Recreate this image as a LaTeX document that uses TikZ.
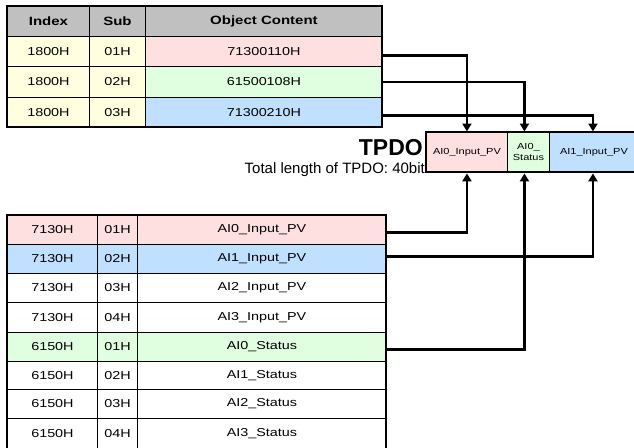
\documentclass[tikz,border=0pt]{standalone}
\usepackage{fontspec}
\setmainfont{Liberation Sans}
\newfontfamily\widefont[FakeStretch=1.25]{Liberation Sans}
\usetikzlibrary{arrows.meta}
\definecolor{hdrgray}{RGB}{192,192,192}
\definecolor{cellyellow}{RGB}{255,255,224}
\definecolor{cellpink}{RGB}{255,224,224}
\definecolor{cellgreen}{RGB}{224,255,224}
\definecolor{cellblue}{RGB}{192,224,255}
\newcommand{\mkcell}[7][]{%
  \node[cell,#1,fill=#7,minimum width={#4pt-#2pt},minimum height={#5pt-#3pt}] (#6) at (#2,#3) {};}
\begin{document}
\begin{tikzpicture}[x=1pt,y=-1pt,
  cell/.style={draw=black,line width=0.9pt,inner sep=0pt,anchor=north west},
  txt/.style={font=\widefont\fontsize{11.5}{13}\selectfont},
  hdr/.style={font=\widefont\bfseries\fontsize{12}{14}\selectfont},
  small/.style={font=\widefont\fontsize{8.8}{11}\selectfont,align=center},
  outer/.style={draw=black,line width=1.8pt},
  conn/.style={line width=2.1pt,-{Triangle[width=9pt,length=8pt]},shorten >=0.5pt}]
\useasboundingbox (0,0) rectangle (634,447);
% ---------- top table ----------
\mkcell{7}{6}{89}{36}{h1}{hdrgray}
\mkcell{89}{6}{145}{36}{h2}{hdrgray}
\mkcell{145}{6}{382}{36}{h3}{hdrgray}
\node[hdr] (h1t) at (h1.center) {Index};
\node[hdr] (h2t) at (h2.center) {Sub};
\node[hdr] (h3t) at (h3.center) {Object Content};
\mkcell{7}{36}{89}{66}{c11}{cellyellow}
\mkcell{89}{36}{145}{66}{c12}{cellyellow}
\mkcell{145}{36}{382}{66}{c13}{cellpink}
\mkcell{7}{66}{89}{97}{c21}{cellyellow}
\mkcell{89}{66}{145}{97}{c22}{cellyellow}
\mkcell{145}{66}{382}{97}{c23}{cellgreen}
\mkcell{7}{97}{89}{127}{c31}{cellyellow}
\mkcell{89}{97}{145}{127}{c32}{cellyellow}
\mkcell{145}{97}{382}{127}{c33}{cellblue}
\node[txt] (c11t) at (c11.center) {1800H};
\node[txt] (c12t) at (c12.center) {01H};
\node[txt] (c13t) at (c13.center) {71300110H};
\node[txt] (c21t) at (c21.center) {1800H};
\node[txt] (c22t) at (c22.center) {02H};
\node[txt] (c23t) at (c23.center) {61500108H};
\node[txt] (c31t) at (c31.center) {1800H};
\node[txt] (c32t) at (c32.center) {03H};
\node[txt] (c33t) at (c33.center) {71300210H};
\draw[outer] (7,6) rectangle (382,127);
% ---------- bottom table ----------
\foreach \r/\ya/\yb/\idx/\sub/\name/\col in {
  1/215/244/7130H/01H/AI0\_Input\_PV/cellpink,
  2/244/273/7130H/02H/AI1\_Input\_PV/cellblue,
  3/273/302/7130H/03H/AI2\_Input\_PV/white,
  4/302/332/7130H/04H/AI3\_Input\_PV/white,
  5/332/361/6150H/01H/AI0\_Status/cellgreen,
  6/361/389/6150H/02H/AI1\_Status/white,
  7/389/418/6150H/03H/AI2\_Status/white,
  8/418/449/6150H/04H/AI3\_Status/white}{
  \mkcell{7}{\ya}{97}{\yb}{b\r1}{\col}
  \mkcell{97}{\ya}{137}{\yb}{b\r2}{\col}
  \mkcell{137}{\ya}{386}{\yb}{b\r3}{\col}
  \node[txt] (b\r1t) at (b\r1.center) {\idx};
  \node[txt] (b\r2t) at (b\r2.center) {\sub};
  \node[txt] (b\r3t) at (b\r3.center) {\name};
}
\draw[outer] (7,215) rectangle (386,449);
% ---------- TPDO ----------
\mkcell{426}{132}{507}{172}{tp1}{cellpink}
\mkcell{507}{132}{549}{172}{tp2}{cellgreen}
\mkcell{549}{132}{640}{172}{tp3}{cellblue}
\node[small] (tp1t) at (tp1.center) {AI0\_Input\_PV};
\node[small] (tp2t) at (tp2.center) {AI0\_\\Status};
\node[small] (tp3t) at ([xshift=-1pt]tp3.center) {AI1\_Input\_PV};
\draw[outer] (426,132) rectangle (640,172);
\node[anchor=base east,inner sep=0pt,font=\bfseries\fontsize{23}{25}\selectfont] (tpdo) at (423,155) {TPDO};
\node[anchor=base east,inner sep=0pt,font=\fontsize{15}{17}\selectfont] (total) at (425,173) {Total length of TPDO: 40bit};
% ---------- connectors ----------
\draw[conn] ([yshift=-4pt]c13.east) -| (tp1.north);
\draw[conn] (c23.east) -| ([xshift=-4pt]tp2.north);
\draw[conn] ([yshift=-3pt]c33.east) -| ([xshift=-2pt]tp3.north);
\draw[conn] ([yshift=-2.5pt]b13.east) -| (tp1.south);
\draw[conn] ([yshift=2.5pt]b23.east) -| ([xshift=-2pt]tp3.south);
\draw[conn] ([yshift=-2.5pt]b53.east) -| ([xshift=-4pt]tp2.south);
\end{tikzpicture}
\end{document}
